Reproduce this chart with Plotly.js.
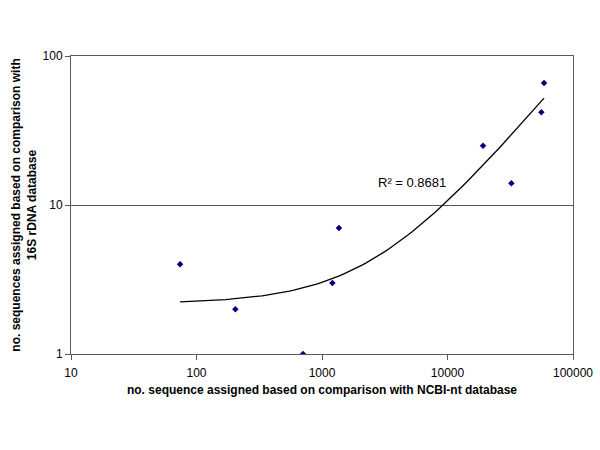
<!DOCTYPE html>
<html>
<head>
<meta charset="utf-8">
<script src="https://cdn.plot.ly/plotly-3.0.1.min.js"></script>
<style>html,body{margin:0;padding:0;background:#fff;}#chart{width:600px;height:450px;}</style>
</head>
<body>
<div id="chart"></div>
<script>
// Data
var ncbiCounts = [74, 204, 706, 1210, 1365, 19190, 32300, 56000, 58800];
var rdnaCounts = [4, 2, 1, 3, 7, 25, 14, 42, 66];
var xTickVals = [10, 100, 1000, 10000, 100000];
var xTickText = ["10", "100", "1000", "10000", "100000"];
var yTickVals = [1, 10, 100];
var yTickText = ["1", "10", "100"];
var r2Label = "R\u00b2 = 0.8681";
var xTitle = "no. sequence assigned based on comparison with NCBI-nt database";
var yTitle = "no. sequences assigned based on comparison with<br>16S rDNA database";

// Linear least-squares trendline (as in a spreadsheet "linear" trendline)
var n = ncbiCounts.length;
var mx = ncbiCounts.reduce(function(a,b){return a+b;},0)/n;
var my = rdnaCounts.reduce(function(a,b){return a+b;},0)/n;
var sxy = 0, sxx = 0;
for (var i = 0; i < n; i++) { sxy += (ncbiCounts[i]-mx)*(rdnaCounts[i]-my); sxx += (ncbiCounts[i]-mx)*(ncbiCounts[i]-mx); }
var slope = sxy/sxx, intercept = my - slope*mx;
var xmin = Math.min.apply(null, ncbiCounts), xmax = Math.max.apply(null, ncbiCounts);
var trendX = [], trendY = [];
var steps = 80;
for (var k = 0; k <= steps; k++) {
  var lx = Math.log10(xmin) + (Math.log10(xmax) - Math.log10(xmin))*k/steps;
  var xv = Math.pow(10, lx);
  trendX.push(xv); trendY.push(intercept + slope*xv);
}

var font = "Liberation Sans, Arial, sans-serif";
var data = [
  {x: trendX, y: trendY, type: "scatter", mode: "lines", line: {color: "#000000", width: 1.3}, hoverinfo: "skip"},
  {x: ncbiCounts, y: rdnaCounts, type: "scatter", mode: "markers",
   marker: {symbol: "diamond", size: 5, color: "#000080"}}
];
var layout = {
  width: 600, height: 450,
  margin: {l: 71, r: 27, t: 56, b: 96},
  paper_bgcolor: "#ffffff", plot_bgcolor: "#ffffff",
  showlegend: false,
  font: {family: font, size: 12, color: "#000000"},
  xaxis: {
    type: "log", range: [1, 5],
    tickvals: xTickVals, ticktext: xTickText,
    showgrid: false, zeroline: false,
    showline: true, linecolor: "#5a5a5a", linewidth: 1, mirror: true,
    ticks: "outside", ticklen: 5, tickcolor: "#5a5a5a",
    ticklabelstandoff: 3,
    tickfont: {family: font, size: 12, color: "#000"},
    title: {text: xTitle, font: {family: font, size: 12, color: "#000", weight: "bold"}, standoff: 6}
  },
  yaxis: {
    type: "log", range: [0, 2],
    tickvals: yTickVals, ticktext: yTickText,
    showgrid: true, gridcolor: "#5a5a5a", gridwidth: 1, zeroline: false,
    showline: true, linecolor: "#5a5a5a", linewidth: 1, mirror: true,
    ticks: "outside", ticklen: 5, tickcolor: "#5a5a5a",
    tickfont: {family: font, size: 12, color: "#000"},
    title: {text: yTitle, font: {family: font, size: 12, color: "#000", weight: "bold"}, standoff: 3}
  },
  annotations: [
    {x: Math.log10(5190), y: Math.log10(14.1), xref: "x", yref: "y", text: r2Label,
     showarrow: false, font: {family: font, size: 13, color: "#000"}}
  ]
};
Plotly.newPlot("chart", data, layout, {displayModeBar: false, staticPlot: true});
</script>
</body>
</html>
